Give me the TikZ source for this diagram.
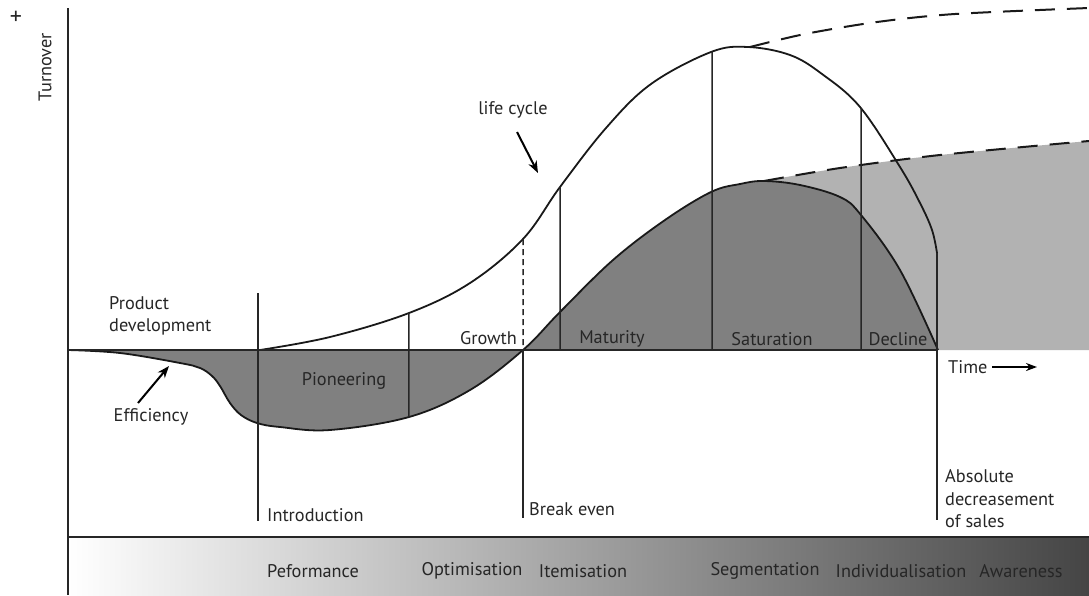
\documentclass[tikz,border=0pt]{standalone}
\usepackage{fontspec}
\setmainfont{PT Sans}
\usetikzlibrary{arrows.meta,intersections}
\begin{document}
\begin{tikzpicture}[x=1pt,y=-1pt,
  lbl/.style={font=\fontsize{18.3}{22.5}\selectfont, inner sep=0pt, text=black!85},
  axisline/.style={line width=2pt, black!85},
  thinline/.style={line width=1.5pt, black!85},
  curveline/.style={line width=1.8pt, black!90},
  dashline/.style={line width=2pt, black!90, dash pattern=on 20pt off 12pt},
  pointer/.style={line width=2pt, -{Stealth[length=12pt,width=9pt]}},
  darkfill/.style={fill=black!50},
  lightfill/.style={fill=black!30}]
\useasboundingbox (0,0) rectangle (1089,595);
% bottom band
\shade[left color=white, right color=black!73] (68,537) rectangle (1089,595);
% light gray region
\fill[lightfill] plot[smooth] coordinates {(764,181) (840,168) (940,155) (1089,141)} -- (1089,350) -- (764,350) -- cycle;
% dark fill
\fill[darkfill] plot[smooth, tension=0.6] coordinates {(68,350) (120,353) (180,363) (200,368) (212,376) (220,386) (230,403) (241,415) (257,423) (280,427) (330,430) (409,417) (470,390) (523,350) (560,312) (613,260) (665,220) (711,192) (740,184) (764,181) (800,185) (840,197) (861,215) (900,270) (938,350)} -- cycle;
\draw[curveline, name path=dk] plot[smooth, tension=0.6] coordinates {(68,350) (120,353) (180,363) (200,368) (212,376) (220,386) (230,403) (241,415) (257,423) (280,427) (330,430) (409,417) (470,390) (523,350) (560,312) (613,260) (665,220) (711,192) (740,184) (764,181) (800,185) (840,197) (861,215) (900,270) (938,350)};
% life cycle curve
\draw[curveline, name path=lc] plot[smooth, tension=0.6] coordinates {(260,350) (330,337) (409,313) (470,283) (523,239) (560,187) (606,128) (651,84) (711,52) (748,47) (790,55) (822,74) (860,107) (900,167) (920,203) (932,230) (937,253)};
% dashed continuations
\draw[dashline] plot[smooth] coordinates {(750,47) (805,34) (877,22) (955,14) (1089,8)};
\draw[dashline] plot[smooth] coordinates {(764,181) (840,168) (940,155) (1089,141)};
% axes
\draw[axisline] (68,8) -- (68,595);
\draw[thinline] (68,350) -- (938,350);
\draw[axisline] (68,537) -- (1089,537);
% vertical guides meeting the curves
\foreach \xx/\nm in {409/a,523/b,560/c,712/d,861/e}{
  \path[name path=v\nm] (\xx,0) -- (\xx,360);
  \path[name intersections={of=lc and v\nm, by=t\nm}];
}
\path[name path=vlow] (409,355) -- (409,500);
\path[name intersections={of=dk and vlow, by=ba}];
\coordinate (bb) at (523,350);
\coordinate (bc) at (560,350);
\coordinate (bd) at (712,350);
\coordinate (be) at (861,350);
\draw[thinline] (ta) -- (ba);
\draw[thinline, dash pattern=on 6pt off 4pt] (tb) -- (bb);
\draw[thinline] (bb) -- (523,518);
\draw[thinline] (tc) -- (bc);
\draw[thinline] (td) -- (bd);
\draw[thinline] (te) -- (be);
\draw[thinline] (258,293) -- (258,521);
\draw[thinline] (937,253) -- (937,520);
% labels
\node[lbl, font=\fontsize{24}{24}\selectfont] (plus) at (16,18) {+};
\node[lbl, rotate=90] (turn) at (45,67) {Turnover};
\node[lbl, align=left, anchor=west] (prod) at (109,316) {Product\\development};
\node[lbl] (pion) at (344,381) {Pioneering};
\node[lbl, anchor=east] (grow) at (517,338) {Growth};
\node[lbl] (mat) at (612,339) {Maturity};
\node[lbl] (sat) at (772,339) {Saturation};
\node[lbl] (dec) at (898,339) {Decline};
\node[lbl, anchor=west] (time) at (948,367) {Time};
\coordinate (timeend) at (1037,367);
\draw[line width=2pt, -{Stealth[length=11pt,width=8pt]}] (992,367) -- (timeend);
\node[lbl] (life) at (513,110) {life cycle};
\coordinate (lifetip) at (538,173);
\draw[pointer] (517,132) -- (lifetip);
\node[lbl] (eff) at (151,417) {Efficiency};
\coordinate (efftip) at (169,366);
\draw[pointer] (138,403) -- (efftip);
\node[lbl, anchor=west] (intro) at (267,515) {Introduction};
\node[lbl, anchor=west] (brk) at (529,509) {Break even};
\node[lbl, align=left, anchor=west] (abs) at (945,499) {Absolute\\decreasement\\of sales};
% band labels
\node[lbl] (perf) at (313,571) {Peformance};
\node[lbl] (opt) at (472,571) {Optimisation};
\node[lbl] (item) at (583,571) {Itemisation};
\node[lbl] (seg) at (765,571) {Segmentation};
\node[lbl] (ind) at (901,571) {Individualisation};
\node[lbl] (awa) at (1021,571) {Awareness};
\end{tikzpicture}
\end{document}
